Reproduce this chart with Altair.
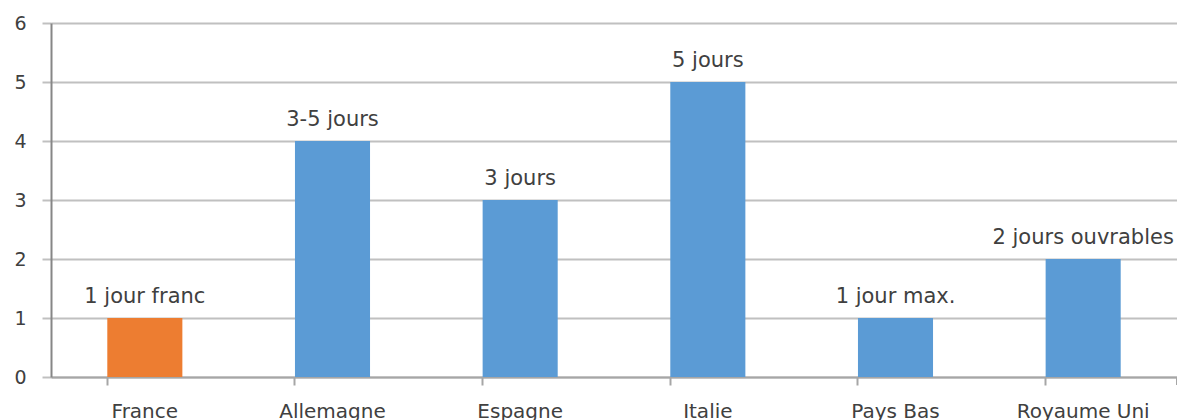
import altair as alt
import pandas as pd

countries = ["France", "Allemagne", "Espagne", "Italie", "Pays Bas", "Royaume Uni"]
values = [1, 4, 3, 5, 1, 2]
labels = ["1 jour franc", "3-5 jours", "3 jours", "5 jours", "1 jour max.", "2 jours ouvrables"]
groups = ["France", "Autres", "Autres", "Autres", "Autres", "Autres"]

df = pd.DataFrame({"pays": countries, "val": values, "lab": labels, "grp": groups})

W, H = 1126, 354
FONT = "DejaVu Sans"
TXT = "#404040"

x = alt.X("pays:N", sort=countries, title=None,
          scale=alt.Scale(paddingInner=0.6, paddingOuter=0.3),
          axis=alt.Axis(labelAngle=0, bandPosition=0, ticks=True, tickSize=8,
                        tickColor="#a6a6a6", tickWidth=2, domainColor="#a6a6a6",
                        domainWidth=2, labelPadding=16, labelFontSize=20,
                        labelFont=FONT, labelColor=TXT, grid=False,
                        labelBound=False, labelFlush=False))
y = alt.Y("val:Q", title=None,
          scale=alt.Scale(domain=[0, 6], nice=False),
          axis=alt.Axis(values=[0, 1, 2, 3, 4, 5, 6], format="d", tickSize=9,
                        tickColor="#c0c0c0", tickWidth=2, grid=True,
                        gridColor="#c0c0c0", gridWidth=2, domainColor="#868686",
                        domainWidth=2, labelPadding=16, labelFontSize=19,
                        labelFont=FONT, labelColor=TXT))

bars = alt.Chart(df).mark_bar().encode(
    x=x, y=y,
    color=alt.Color("grp:N", scale=alt.Scale(domain=["France", "Autres"],
                                             range=["#ED7D31", "#5B9BD5"]),
                    legend=None),
)

text = alt.Chart(df).mark_text(baseline="bottom", dy=-11, fontSize=21,
                               font=FONT, color=TXT).encode(
    x=alt.X("pays:N", sort=countries), y="val:Q", text="lab:N")

endtick = alt.Chart(df).mark_rule(color="#a6a6a6", strokeWidth=2).encode(
    x=alt.value(W), y=alt.value(H), y2=alt.value(H + 8))

chart = alt.layer(bars, text, endtick).properties(
    width=W, height=H,
    autosize=alt.AutoSizeParams(type="none"),
    padding={"left": 43, "top": 15, "right": 0, "bottom": 45},
).configure_view(stroke=None).configure(background="white")

chart.save("out.html", embed_options={"renderer": "svg", "actions": False})
